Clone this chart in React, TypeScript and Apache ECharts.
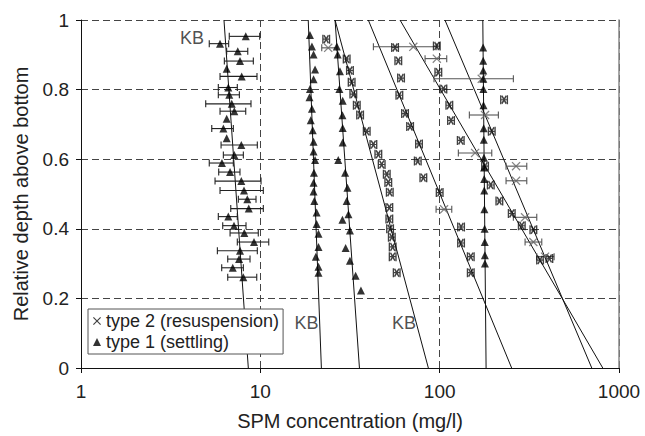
import React, { useEffect, useRef } from "react";
import * as echarts from "echarts";

const FONT = "'Liberation Sans', Arial, Helvetica, sans-serif";

const xMin = 1;
const xMax = 1000;
const yTicks = [0, 0.2, 0.4, 0.6, 0.8, 1];

// type 1 (settling): [SPM mg/l, relative depth, errLow, errHigh]
const settlingA = [
  [8.29, 0.953, 6.71, 9.92], [5.96, 0.932, 5.19, 6.66], [7.48, 0.91, 6.49, 8.51],
  [7.7, 0.882, 6.3, 9.14], [6.49, 0.86], [7.87, 0.838, 5.96, 9.58],
  [6.63, 0.806, 5.83, 7.44], [6.71, 0.785, 5.83, 7.64], [6.93, 0.759, 4.96, 8.87],
  [7.16, 0.738, 5.96, 8.29], [6.49, 0.716], [6.22, 0.688, 5.36, 7.07],
  [6.49, 0.66], [7.83, 0.641, 6.04, 9.62], [7.16, 0.612, 6.22, 8.04],
  [6.11, 0.589, 5.19, 7.07], [6.78, 0.563, 5.86, 7.7], [7.83, 0.537, 5.59, 10.09],
  [8.11, 0.51, 5.96, 10.39], [8.46, 0.485, 7.54, 9.46], [8.62, 0.458, 6.84, 10.39],
  [6.63, 0.435, 5.83, 7.44], [7.13, 0.409, 6.17, 8.32], [8.14, 0.388, 6.78, 9.74],
  [9.22, 0.362, 7.44, 11.14], [7.7, 0.337, 5.76, 9.62], [7.61, 0.313, 6.58, 8.76],
  [7.02, 0.288, 6.09, 8.04], [8.04, 0.261, 6.58, 9.55],
];
const settlingB = [
  [18.9, 0.957], [19.4, 0.924], [19.8, 0.901], [20.2, 0.858], [19.8, 0.83],
  [18.9, 0.802], [18.8, 0.778], [19.4, 0.745], [19.1, 0.712], [19.6, 0.683],
  [19.8, 0.65], [19.8, 0.622], [20.2, 0.598], [19.9, 0.561], [19.8, 0.532],
  [19.8, 0.507], [20.0, 0.48], [20.6, 0.447], [20.6, 0.414], [21.1, 0.386],
  [21.1, 0.348], [20.4, 0.32], [21.1, 0.291], [21.1, 0.274],
];
const settlingC = [
  [26.7, 0.924], [27.0, 0.901], [27.8, 0.853], [27.6, 0.802], [28.8, 0.768],
  [28.7, 0.726], [28.8, 0.69], [28.8, 0.648], [27.2, 0.598], [29.7, 0.561],
  [30.6, 0.518], [30.3, 0.48], [31.0, 0.442], [28.7, 0.426], [31.6, 0.395],
  [29.9, 0.345], [31.6, 0.308], [34.0, 0.265], [36.4, 0.223],
];
const settlingD = [
  [174.7, 0.921], [174.8, 0.883], [175.0, 0.855], [175.1, 0.831], [175.3, 0.802],
  [175.6, 0.755], [176.0, 0.689], [176.2, 0.656], [176.6, 0.604], [176.8, 0.576],
  [177.1, 0.543], [177.3, 0.51], [177.6, 0.456], [178.1, 0.4], [178.4, 0.362],
  [178.7, 0.324], [178.9, 0.3],
];

// type 2 (resuspension), without visible error bar
const resuspension = [
  [23.3, 0.945], [30.3, 0.888], [31.6, 0.855], [32.3, 0.821], [33.0, 0.787],
  [34.5, 0.755], [36.0, 0.727], [39.2, 0.68], [42.7, 0.642], [45.5, 0.614],
  [47.5, 0.585], [50.7, 0.557], [51.7, 0.533], [52.7, 0.505], [52.4, 0.461],
  [52.4, 0.428], [52.9, 0.4], [54.1, 0.376], [54.7, 0.348], [54.7, 0.32],
  [57.6, 0.274],
  [56.4, 0.921], [96.4, 0.925], [58.8, 0.883], [98.3, 0.85], [60.9, 0.833],
  [59.6, 0.784], [104.9, 0.802], [64.1, 0.731], [113.2, 0.755], [68.4, 0.694],
  [115.7, 0.711], [76.7, 0.644], [75.5, 0.595], [81.1, 0.547], [131.1, 0.654],
  [100, 0.504], [131.6, 0.405], [131.6, 0.359], [149.1, 0.32], [149.1, 0.274],
  [228.6, 0.771], [195.2, 0.68], [179.1, 0.58], [192.7, 0.526], [215.2, 0.48],
  [252.3, 0.444], [287, 0.409], [333, 0.397], [363, 0.31], [409, 0.315],
];
// type 2 with error bars: [SPM, depth, errLow, errHigh]
const resuspensionBars = [
  [23.9, 0.92, 22.0, 26.7], [71.3, 0.923, 42.7, 96.4], [96.4, 0.889, 82.9, 109.5],
  [105.8, 0.456, 95.5, 116.8], [157.6, 0.618, 127.1, 195.2], [171.7, 0.831, 93.0, 257.6],
  [179.1, 0.727, 146.4, 212.5], [266.7, 0.58, 234.5, 306], [266.7, 0.538, 234.5, 306],
  [299.4, 0.433, 257.6, 347.9], [333, 0.362, 299.4, 371], [387, 0.32, 347.9, 434.6],
];

// fitted profiles: [SPM at depth 0, SPM at depth 1]
const fitLines = [
  [8.57, 6.27], [21.9, 18.5], [35.7, 26.1], [86.5, 26.1],
  [252, 40.0], [812, 60.1], [705, 107], [181.5, 174],
];

const kbLabels = [
  [4.16, 0.949], [18.1, 0.13], [63.3, 0.13],
];

const xIcon = "path://M0,1L1,0L5,4L9,0L10,1L6,5L10,9L9,10L5,6L1,10L0,9L4,5Z";
const xCapIcon =
  "path://M0,0H1.7V10H0Z M8.3,0H10V10H8.3Z M1.7,1.3L2.9,0L5,3.1L7.1,0L8.3,1.3L6.1,5L8.3,8.7L7.1,10L5,6.9L2.9,10L1.7,8.7L3.9,5Z M1.7,4.4H8.3V5.6H1.7Z";

const T2 = "type 2 (resuspension)";
const T1 = "type 1 (settling)";

function errRenderer(color: string) {
  return (params: any, api: any) => {
    const y = api.value(2);
    const a = api.coord([api.value(0), y]);
    const b = api.coord([api.value(1), y]);
    const h = 3.5;
    const style = { stroke: color, lineWidth: 1.1 };
    return {
      type: "group",
      children: [
        { type: "line", shape: { x1: a[0], y1: a[1], x2: b[0], y2: b[1] }, style },
        { type: "line", shape: { x1: a[0], y1: a[1] - h, x2: a[0], y2: a[1] + h }, style },
        { type: "line", shape: { x1: b[0], y1: b[1] - h, x2: b[0], y2: b[1] + h }, style },
      ],
    };
  };
}

export default function App() {
  const ref = useRef<HTMLDivElement>(null);

  useEffect(() => {
    if (!ref.current) return;
    const chart = echarts.init(ref.current, undefined, { renderer: "svg" });

    const settlingAll = [...settlingA, ...settlingB, ...settlingC, ...settlingD].map((p) => [p[0], p[1]]);
    const settlingErr = settlingA.filter((p) => p.length === 4).map((p) => [p[2], p[3], p[1]]);
    const resErr = resuspensionBars.map((p) => [p[2], p[3], p[1]]);

    const lineSeries = fitLines.map((l) => ({
      type: "line",
      data: [[l[0], 0], [l[1], 1]],
      showSymbol: false,
      symbol: "none",
      silent: true,
      lineStyle: { color: "#111", width: 1 },
      z: 1,
    }));

    chart.setOption({
      animation: false,
      backgroundColor: "#fff",
      textStyle: { fontFamily: FONT },
      grid: { left: 81, top: 20, width: 538, height: 353 },
      legend: {
        data: [
          { name: T2, icon: xIcon },
          { name: T1, icon: "triangle" },
        ],
        orient: "vertical",
        left: 88,
        top: 309,
        itemWidth: 8,
        itemHeight: 8,
        itemGap: 3,
        padding: [3, 4, 3, 5],
        borderColor: "#555",
        borderWidth: 1,
        backgroundColor: "#fff",
        selectedMode: false,
        textStyle: { fontSize: 18, color: "#222", fontFamily: FONT },
        z: 10,
      },
      xAxis: [
        {
          type: "log",
          logBase: 10,
          min: xMin,
          max: xMax,
          name: "SPM concentration (mg/l)",
          nameLocation: "middle",
          nameGap: 43,
          nameTextStyle: { fontSize: 20, color: "#222", fontFamily: FONT },
          axisLine: { lineStyle: { color: "#111", width: 1 } },
          axisTick: { show: true, length: 5, lineStyle: { color: "#111" } },
          axisLabel: {
            fontSize: 19,
            color: "#222",
            margin: 14,
            fontFamily: FONT,
            formatter: (v: number) => String(Math.round(v)),
          },
          splitLine: { show: true, lineStyle: { type: [7, 4], color: "#444", width: 1 } },
          minorTick: { show: false },
        },
        {
          type: "log",
          logBase: 10,
          min: xMin,
          max: xMax,
          position: "top",
          axisLine: { lineStyle: { color: "#111", width: 1 } },
          axisTick: { show: false },
          axisLabel: { show: false },
          splitLine: { show: false },
        },
      ],
      yAxis: [
        {
          type: "value",
          min: yTicks[0],
          max: yTicks[yTicks.length - 1],
          interval: 0.2,
          name: "Relative depth above bottom",
          nameLocation: "middle",
          nameGap: 50,
          nameTextStyle: { fontSize: 20, color: "#222", fontFamily: FONT },
          axisLine: { show: true, lineStyle: { color: "#111", width: 1 } },
          axisTick: { show: true, length: 5, lineStyle: { color: "#111" } },
          axisLabel: { fontSize: 19, color: "#222", margin: 12, fontFamily: FONT },
          splitLine: { show: true, lineStyle: { type: [7, 4], color: "#444", width: 1 } },
        },
        {
          type: "value",
          min: yTicks[0],
          max: yTicks[yTicks.length - 1],
          position: "right",
          axisLine: { show: true, lineStyle: { color: "#888", width: 1.5 } },
          axisTick: { show: false },
          axisLabel: { show: false },
          splitLine: { show: false },
        },
      ],
      series: [
        ...lineSeries,
        {
          type: "custom",
          renderItem: errRenderer("#222"),
          data: settlingErr,
          encode: { x: [0, 1], y: 2 },
          silent: true,
          z: 2,
        },
        {
          type: "custom",
          renderItem: errRenderer("#555"),
          data: resErr,
          encode: { x: [0, 1], y: 2 },
          silent: true,
          z: 2,
        },
        {
          name: T2,
          type: "scatter",
          data: resuspension,
          symbol: xCapIcon,
          symbolSize: [8, 9],
          itemStyle: { color: "#111" },
          z: 3,
        },
        {
          name: T2,
          type: "scatter",
          data: resuspensionBars.map((p) => [p[0], p[1]]),
          symbol: xIcon,
          symbolSize: 9,
          itemStyle: { color: "#666" },
          z: 3,
        },
        {
          name: T1,
          type: "scatter",
          data: settlingAll,
          symbol: "triangle",
          symbolSize: [8, 8],
          itemStyle: { color: "#000" },
          z: 4,
        },
        {
          type: "scatter",
          data: kbLabels,
          symbolSize: 0,
          silent: true,
          label: {
            show: true,
            position: "inside",
            formatter: "KB",
            fontSize: 18,
            color: "#222",
            fontFamily: FONT,
          },
          z: 5,
        },
      ],
    });

    return () => chart.dispose();
  }, []);

  return (
    <div
      ref={ref}
      style={{ position: "absolute", left: 0, top: 0, width: 645, height: 436, background: "#fff" }}
    />
  );
}
